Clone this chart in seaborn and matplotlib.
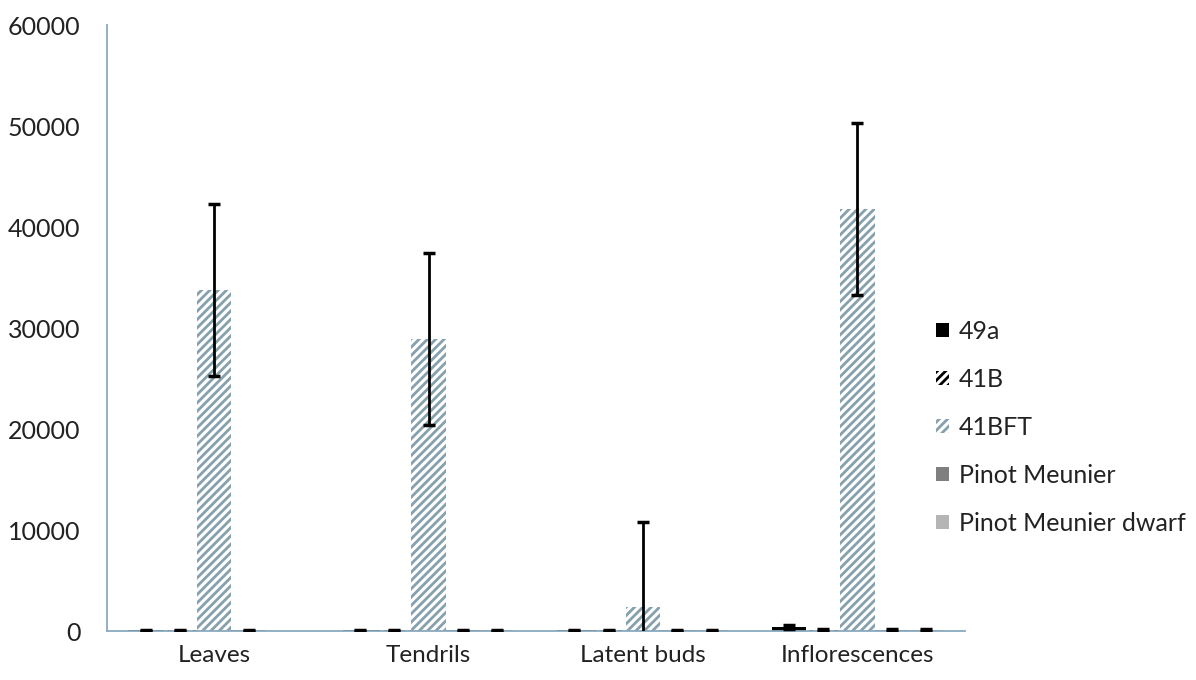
import numpy as np
import pandas as pd
import matplotlib
matplotlib.use('Agg')
import matplotlib.pyplot as plt
import seaborn as sns
from matplotlib.patches import Patch

tissues = ['Leaves', 'Tendrils', 'Latent buds', 'Inflorescences']
genotypes = ['49a', '41B', '41BFT', 'Pinot Meunier', 'Pinot Meunier dwarf']

# expression values, one list per genotype (tissue order)
val_49a = [80, 80, 80, 420]
val_41b = [80, 80, 80, 150]
val_41bft = [33800, 28900, 2400, 41800]
val_pm = [80, 80, 80, 150]
val_pmd = [0, 80, 80, 150]

err_49a = [60, 60, 60, 220]
err_41b = [60, 60, 60, 100]
err_41bft = [8500, 8500, 8400, 8500]
err_pm = [60, 60, 60, 100]
err_pmd = [np.nan, 60, 60, 100]

values = [val_49a, val_41b, val_41bft, val_pm, val_pmd]
errors = [err_49a, err_41b, err_41bft, err_pm, err_pmd]

rows = []
for g, vals, errs in zip(genotypes, values, errors):
    for t, v, e in zip(tissues, vals, errs):
        rows.append({'tissue': t, 'genotype': g, 'value': v, 'err': e})
df = pd.DataFrame(rows)

sns.set_style('white')
plt.rcParams['font.family'] = ['Lato', 'DejaVu Sans']
plt.rcParams['hatch.linewidth'] = 2.0

face = {'49a': 'black', '41B': 'white', '41BFT': 'white',
        'Pinot Meunier': '#7f7f7f', 'Pinot Meunier dwarf': '#b5b5b5'}
hatch = {'49a': None, '41B': '////', '41BFT': '////',
         'Pinot Meunier': None, 'Pinot Meunier dwarf': None}
hcol = {'49a': 'black', '41B': 'black', '41BFT': '#86a0ad',
        'Pinot Meunier': '#7f7f7f', 'Pinot Meunier dwarf': '#b5b5b5'}

fig = plt.figure(figsize=(11.96, 6.8), dpi=100)
ax = fig.add_axes([0.0895, 0.072, 0.717, 0.891])

sns.barplot(data=df, x='tissue', y='value', hue='genotype', order=tissues,
            hue_order=genotypes, errorbar=None, width=0.8, dodge=True,
            palette=['black'] * 5, legend=False, ax=ax)

bars = ax.patches
for i, g in enumerate(genotypes):
    sub = df[df.genotype == g].set_index('tissue').loc[tissues]
    xs = []
    for j, t in enumerate(tissues):
        p = bars[i * len(tissues) + j]
        p.set_facecolor(face[g])
        p.set_edgecolor(hcol[g])
        p.set_linewidth(0)
        if hatch[g]:
            p.set_hatch(hatch[g])
        xs.append(p.get_x() + p.get_width() / 2)
    ax.errorbar(xs, sub['value'], yerr=sub['err'], fmt='none', ecolor='black',
                elinewidth=2, capsize=4.5, capthick=2.5, zorder=5)

axis_col = '#8aaabf'
ax.set_xlim(-0.5, 3.5)
ax.set_ylim(0, 60000)
ax.set_yticks(np.arange(0, 60001, 10000))
ax.set_xticks(np.arange(-0.5, 3.6, 1), minor=False)
ax.set_xticks(range(4), minor=True)
ax.set_xticklabels([''] * 5)
ax.set_xticklabels(tissues, minor=True)
ax.tick_params(axis='x', which='major', length=7, width=1.3, color=axis_col, direction='out')
ax.tick_params(axis='x', which='minor', length=0, labelsize=17.5, pad=10, labelcolor='#222222')
ax.tick_params(axis='y', length=5, width=1.3, color=axis_col, direction='out',
               labelsize=18, pad=14, labelcolor='#222222')
ax.set_xlabel('')
ax.set_ylabel('')
for s in ['top', 'right']:
    ax.spines[s].set_visible(False)
for s in ['left', 'bottom']:
    ax.spines[s].set_color(axis_col)
    ax.spines[s].set_linewidth(1.3)

handles = [Patch(facecolor=face[g], edgecolor=hcol[g], hatch=hatch[g], linewidth=0)
           for g in genotypes]
fig.legend(handles, genotypes, loc='center left', bbox_to_anchor=(0.783, 0.371),
           frameon=False, fontsize=18, handlelength=0.5, handleheight=0.5,
           handletextpad=0.4, labelspacing=1.0, borderpad=0, borderaxespad=0,
           labelcolor='#222222')

fig.savefig('out.png', dpi=100)
